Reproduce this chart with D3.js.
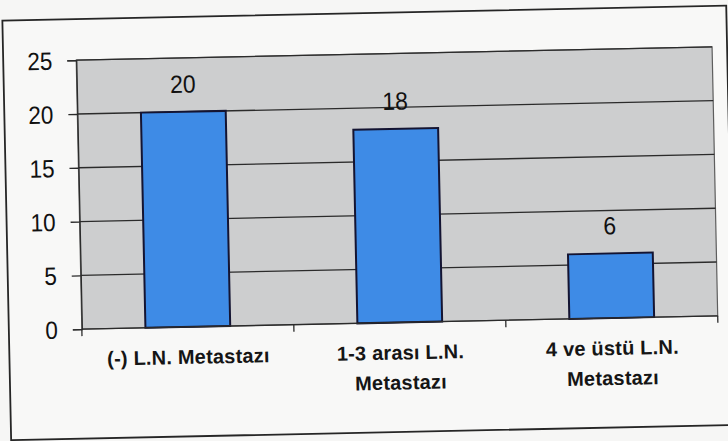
<!DOCTYPE html>
<html>
<head>
<meta charset="utf-8">
<script src="https://cdn.jsdelivr.net/npm/d3@7"></script>
<style>
  html, body { margin: 0; padding: 0; background: #f6f6f5; }
  svg { display: block; }
</style>
</head>
<body>
<svg id="chart" width="728" height="441"></svg>
<script>
// Lymph node metastasis groups and patient counts
const categories = [["(-) L.N. Metastazı"], ["1-3 arası L.N.", "Metastazı"], ["4 ve üstü L.N.", "Metastazı"]];
const values = [20, 18, 6];
const yTicks = [0, 5, 10, 15, 20, 25];

const svg = d3.select("#chart");
const plot = { left: 79, right: 715, top: 53.5, bottom: 322.5 };
const numFont = "Liberation Sans, Arial, sans-serif";

// whole sheet is slightly tilted on the page
const g = svg.append("g").attr("transform", "rotate(-1.2, 397, 190)");

// outer frame
g.append("rect")
  .attr("x", 6).attr("y", 12.5).attr("width", 724).attr("height", 419.5)
  .attr("fill", "#f8f8f7").attr("stroke", "#262626").attr("stroke-width", 1.8);

const x = d3.scaleBand()
  .domain(d3.range(categories.length))
  .range([plot.left, plot.right])
  .paddingInner(0.6).paddingOuter(0.3);

const xOuter = d3.scaleBand()
  .domain(d3.range(categories.length))
  .range([plot.left, plot.right]);

const y = d3.scaleLinear().domain([0, 25]).range([plot.bottom, plot.top]);

// plot background
g.append("rect")
  .attr("x", plot.left).attr("y", plot.top)
  .attr("width", plot.right - plot.left).attr("height", plot.bottom - plot.top)
  .attr("fill", "#cdcecf").attr("stroke", "#5e5e5e").attr("stroke-width", 1.2);

// horizontal gridlines
g.append("g").selectAll("line")
  .data(yTicks.filter(t => t > 0))
  .join("line")
  .attr("x1", plot.left).attr("x2", plot.right)
  .attr("y1", d => y(d)).attr("y2", d => y(d))
  .attr("stroke", "#2b2b2b").attr("stroke-width", 1.3);

// y axis (labels drawn separately so they can be slightly condensed)
const yAxis = g.append("g")
  .attr("transform", `translate(${plot.left},0)`)
  .call(d3.axisLeft(y).tickValues(yTicks).tickSize(9).tickFormat(""));
yAxis.select(".domain").attr("stroke", "#2b2b2b").attr("stroke-width", 1.3);
yAxis.selectAll(".tick line").attr("stroke", "#2b2b2b").attr("stroke-width", 1.3);

g.append("g").selectAll("g")
  .data(yTicks)
  .join("g")
  .attr("transform", d => `translate(55,${y(d)}) scale(0.9,1)`)
  .append("text")
  .attr("text-anchor", "end")
  .attr("dy", "0.36em")
  .attr("font-family", numFont)
  .attr("font-size", 25).attr("fill", "#111")
  .text(d => d);

// bars
g.append("g").selectAll("rect")
  .data(values)
  .join("rect")
  .attr("x", (d, i) => x(i))
  .attr("y", d => y(d))
  .attr("width", x.bandwidth())
  .attr("height", d => y(0) - y(d))
  .attr("fill", "#3e8be6")
  .attr("stroke", "#141432").attr("stroke-width", 2);

// value labels
g.append("g").selectAll("g")
  .data(values)
  .join("g")
  .attr("transform", (d, i) => `translate(${x(i) + x.bandwidth() / 2},${y(d) - 19}) scale(0.92,1)`)
  .append("text")
  .attr("text-anchor", "middle")
  .attr("font-family", numFont)
  .attr("font-size", 25).attr("fill", "#111")
  .text(d => d);

// x axis baseline with category separators
const xAxis = g.append("g")
  .attr("transform", `translate(0,${plot.bottom})`);
xAxis.append("line")
  .attr("x1", plot.left).attr("x2", plot.right)
  .attr("stroke", "#2b2b2b").attr("stroke-width", 1.3);
xAxis.selectAll("line.sep")
  .data(d3.range(categories.length + 1))
  .join("line").attr("class", "sep")
  .attr("x1", i => i < categories.length ? xOuter(i) : plot.right)
  .attr("x2", i => i < categories.length ? xOuter(i) : plot.right)
  .attr("y1", 0).attr("y2", 7)
  .attr("stroke", "#2b2b2b").attr("stroke-width", 1.3);

// category labels
const labels = xAxis.selectAll("text.cat")
  .data(categories)
  .join("text").attr("class", "cat")
  .attr("x", (d, i) => xOuter(i) + xOuter.bandwidth() / 2)
  .attr("y", 37)
  .attr("text-anchor", "middle")
  .attr("font-family", "Liberation Sans Narrow, Arial Narrow, Liberation Sans, sans-serif")
  .attr("font-weight", "bold")
  .attr("letter-spacing", 0.2)
  .attr("font-size", 20).attr("fill", "#151515");
labels.selectAll("tspan")
  .data(d => d)
  .join("tspan")
  .attr("x", function () { return d3.select(this.parentNode).attr("x"); })
  .attr("dy", (d, i) => i === 0 ? 0 : 30)
  .text(d => d);
</script>
</body>
</html>
